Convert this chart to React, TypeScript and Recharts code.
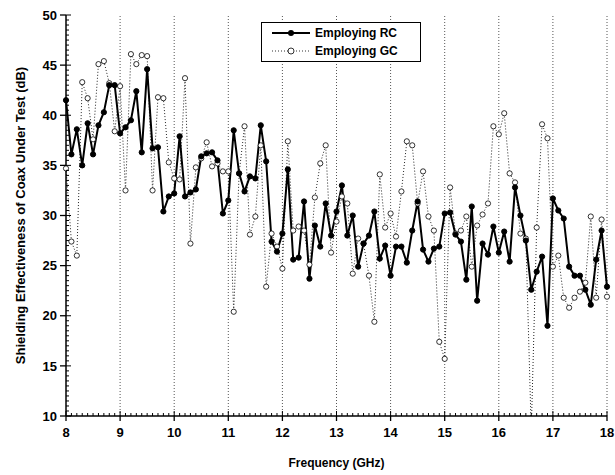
import { LineChart, Line, XAxis, YAxis, ReferenceLine, Label } from 'recharts';

// frequency points (GHz), 0.1 GHz steps
const freq = [
    8.0, 8.1, 8.2, 8.3, 8.4, 8.5, 8.6, 8.7, 8.8, 8.9,
    9.0, 9.1, 9.2, 9.3, 9.4, 9.5, 9.6, 9.7, 9.8, 9.9,
    10.0, 10.1, 10.2, 10.3, 10.4, 10.5, 10.6, 10.7, 10.8, 10.9,
    11.0, 11.1, 11.2, 11.3, 11.4, 11.5, 11.6, 11.7, 11.8, 11.9,
    12.0, 12.1, 12.2, 12.3, 12.4, 12.5, 12.6, 12.7, 12.8, 12.9,
    13.0, 13.1, 13.2, 13.3, 13.4, 13.5, 13.6, 13.7, 13.8, 13.9,
    14.0, 14.1, 14.2, 14.3, 14.4, 14.5, 14.6, 14.7, 14.8, 14.9,
    15.0, 15.1, 15.2, 15.3, 15.4, 15.5, 15.6, 15.7, 15.8, 15.9,
    16.0, 16.1, 16.2, 16.3, 16.4, 16.5, 16.6, 16.7, 16.8, 16.9,
    17.0, 17.1, 17.2, 17.3, 17.4, 17.5, 17.6, 17.7, 17.8, 17.9,
    18.0,
];

// Employing RC (dB)
const rc = [
    41.5, 36.1, 38.6, 35.0, 39.2, 36.1, 39.0, 40.3, 43.0, 43.0,
    38.2, 38.8, 39.5, 42.4, 36.3, 44.6, 36.7, 36.8, 30.4, 31.9,
    32.2, 37.9, 31.9, 32.3, 32.6, 35.9, 36.2, 36.3, 35.5, 30.2,
    31.5, 38.5, 34.2, 32.4, 33.9, 33.7, 39.0, 35.4, 27.4, 26.4,
    28.2, 34.6, 25.6, 25.8, 31.4, 23.7, 29.0, 26.9, 31.2, 28.0,
    30.4, 33.0, 28.0, 30.0, 24.9, 27.2, 28.0, 30.4, 25.7, 27.0,
    24.0, 26.9, 26.9, 25.3, 28.5, 31.4, 26.6, 25.4, 26.7, 26.9,
    30.2, 30.3, 28.1, 27.4, 23.6, 30.9, 21.5, 27.2, 26.1, 28.9,
    26.3, 28.4, 25.4, 32.8, 30.0, 27.5, 22.6, 24.4, 25.9, 19.0,
    31.7, 30.5, 29.7, 24.9, 24.0, 24.0, 22.6, 21.1, 25.6, 28.5,
    22.9,
];

// Employing GC (dB)
const gc = [
    34.7, 27.4, 26.0, 43.3, 41.7, 37.6, 45.1, 45.4, 43.2, 38.4,
    42.9, 32.5, 46.1, 45.1, 46.0, 45.9, 32.5, 41.8, 41.7, 35.3,
    33.7, 33.6, 43.7, 27.2, 34.8, 35.7, 37.3, 34.9, 35.2, 34.4,
    34.4, 20.4, 34.2, 38.9, 28.1, 29.9, 37.0, 22.9, 28.2, 26.9,
    24.7, 37.4, 28.5, 28.9, 28.5, 25.1, 31.8, 35.2, 37.0, 26.3,
    29.4, 31.9, 31.2, 24.2, 27.7, 27.2, 24.0, 19.4, 34.1, 28.8,
    30.2, 27.9, 32.4, 37.4, 37.0, 31.2, 34.4, 29.9, 28.5, 17.4,
    15.7, 32.8, 28.2, 28.5, 29.9, 24.9, 29.0, 30.1, 31.2, 38.9,
    38.1, 40.2, 34.2, 33.3, 28.2, 27.7, 8.5, 28.8, 39.1, 37.7,
    24.9, 26.0, 21.8, 20.8, 21.8, 22.4, 23.3, 29.9, 21.8, 29.6,
    21.9,
];

const xMajor = [8, 9, 10, 11, 12, 13, 14, 15, 16, 17, 18];
const yMajor = [10, 15, 20, 25, 30, 35, 40, 45, 50];

const yMinor: number[] = [];
for (let v = 10; v <= 50.001; v += 0.5) yMinor.push(Math.round(v * 10) / 10);

const data = freq.map((f, i) => ({ f, rc: rc[i], gc: gc[i] }));

const FONT = '"Liberation Sans", Arial, sans-serif';

function isMajor(v: number, majors: number[]) {
    return majors.some((m) => Math.abs(m - v) < 1e-6);
}

function XTick(props: any) {
    const { x, y, payload } = props;
    const major = isMajor(payload.value, xMajor);
    return (
        <g>
            <line x1={x} x2={x} y1={y} y2={y - (major ? 5 : 3)} stroke="#000" strokeWidth={1} />
            {major && <line x1={x} x2={x} y1={y} y2={y + 5} stroke="#000" strokeWidth={1.3} />}
            {major && (
                <text x={x} y={y + 21} textAnchor="middle" fontSize={13} fontWeight="bold" fontFamily={FONT} fill="#000">
                    {Math.round(payload.value)}
                </text>
            )}
        </g>
    );
}

function YTick(props: any) {
    const { x, y, payload } = props;
    const major = isMajor(payload.value, yMajor);
    return (
        <g>
            <line x1={x} x2={x + (major ? 5 : 3)} y1={y} y2={y} stroke="#000" strokeWidth={1} />
            {major && <line x1={x} x2={x - 6} y1={y} y2={y} stroke="#000" strokeWidth={1.3} />}
            {major && (
                <text x={x - 9} y={y} dy="0.36em" textAnchor="end" fontSize={13} fontWeight="bold" fontFamily={FONT} fill="#000">
                    {payload.value}
                </text>
            )}
        </g>
    );
}

function LegendBox() {
    return (
        <div style={{
            position: 'absolute', left: 261, top: 22, width: 158, height: 38,
            border: '1.5px solid #000', background: '#fff', fontFamily: FONT,
            fontWeight: 'bold', fontSize: 12, color: '#000',
        }}>
            <svg width={158} height={38} style={{ position: 'absolute', left: 0, top: 0 }}>
                <line x1={10} x2={48} y1={10} y2={10} stroke="#000" strokeWidth={2} />
                <circle cx={29} cy={10} r={3} fill="#000" />
                <line x1={10} x2={48} y1={28} y2={28} stroke="#333" strokeWidth={1} strokeDasharray="1 2" />
                <circle cx={29} cy={28} r={3} fill="#fff" stroke="#000" strokeWidth={0.8} />
                <text x={53} y={14} fontSize={12} fontWeight="bold" fontFamily={FONT}>Employing RC</text>
                <text x={53} y={32} fontSize={12} fontWeight="bold" fontFamily={FONT}>Employing GC</text>
            </svg>
        </div>
    );
}

export default function App() {
    return (
        <div style={{ position: 'absolute', left: 0, top: 0, width: 615, height: 475, background: '#fff' }}>
            <LineChart width={615} height={475} data={data} margin={{ top: 15, right: 8, left: 0, bottom: 0 }}>
                {xMajor.slice(1).map((v) => (
                    <ReferenceLine key={v} x={v} stroke="#555" strokeWidth={1} strokeDasharray="1 2" />
                ))}
                <XAxis
                    dataKey="f"
                    type="number"
                    domain={[8, 18]}
                    ticks={freq}
                    interval={0}
                    tickSize={0}
                    tickMargin={0}
                    tickLine={false}
                    tick={<XTick />}
                    height={59}
                    axisLine={{ stroke: '#000', strokeWidth: 1.5 }}
                >
                    <Label
                        content={({ viewBox }: any) => (
                            <text x={viewBox.x + viewBox.width / 2} y={viewBox.y + 51} textAnchor="middle" fontSize={12} fontWeight="bold" fontFamily={FONT} fill="#000">
                                Frequency (GHz)
                            </text>
                        )}
                    />
                </XAxis>
                <YAxis
                    type="number"
                    domain={[10, 50]}
                    allowDataOverflow
                    ticks={yMinor}
                    interval={0}
                    tickSize={0}
                    tickMargin={0}
                    tickLine={false}
                    tick={<YTick />}
                    width={66}
                    axisLine={{ stroke: '#000', strokeWidth: 1.5 }}
                >
                    <Label
                        content={({ viewBox }: any) => {
                            const cy = viewBox.y + viewBox.height / 2;
                            return (
                                <text x={20} y={cy} transform={`rotate(-90, 20, ${cy})`} textAnchor="middle" dominantBaseline="central" fontSize={13} fontWeight="bold" fontFamily={FONT} fill="#000">
                                    Shielding Effectiveness of Coax Under Test (dB)
                                </text>
                            );
                        }}
                    />
                </YAxis>
                <Line
                    dataKey="gc"
                    stroke="#222"
                    strokeWidth={1}
                    strokeDasharray="1 2"
                    dot={{ r: 2.6, fill: '#fff', stroke: '#000', strokeWidth: 0.8, strokeDasharray: '' }}
                    isAnimationActive={false}
                />
                <Line
                    dataKey="rc"
                    stroke="#000"
                    strokeWidth={2}
                    dot={{ r: 2.6, fill: '#000', stroke: '#000', strokeWidth: 1 }}
                    isAnimationActive={false}
                />
            </LineChart>
            <LegendBox />
        </div>
    );
}
